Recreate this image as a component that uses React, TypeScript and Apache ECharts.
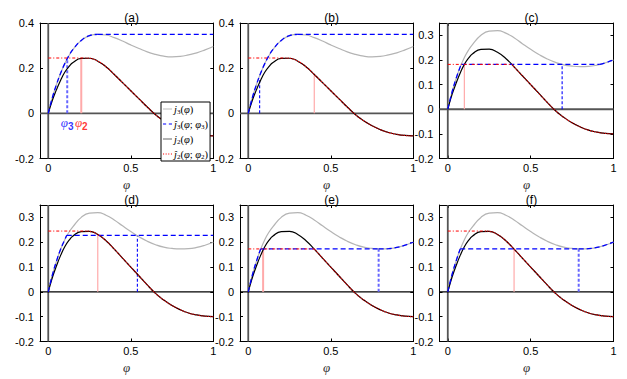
import React, { useEffect, useRef } from 'react';
import * as echarts from 'echarts';

// ---- data ----
const phi = [0, 0.025, 0.05, 0.075, 0.1, 0.125, 0.15, 0.2, 0.25, 0.3, 0.35, 0.4, 0.45, 0.5, 0.55, 0.6, 0.65, 0.7, 0.75, 0.8, 0.85, 0.9, 0.95, 1];
const j2Values = [0, 0.058, 0.105, 0.147, 0.182, 0.207, 0.225, 0.243, 0.244, 0.231, 0.206, 0.172, 0.136, 0.1, 0.064, 0.028, -0.006, -0.033, -0.055, -0.072, -0.085, -0.093, -0.098, -0.1];
const j3ValuesAB = [0, 0.07, 0.128, 0.178, 0.22, 0.255, 0.283, 0.323, 0.344, 0.35, 0.347, 0.335, 0.32, 0.303, 0.287, 0.272, 0.261, 0.253, 0.25, 0.252, 0.259, 0.268, 0.281, 0.296];
const j3ValuesCF = [0, 0.068, 0.124, 0.172, 0.21, 0.24, 0.263, 0.3, 0.317, 0.319, 0.309, 0.29, 0.266, 0.243, 0.222, 0.204, 0.19, 0.18, 0.175, 0.173, 0.174, 0.179, 0.188, 0.2];

const panelTitles = ['(a)', '(b)', '(c)', '(d)', '(e)', '(f)'];
const panelJ3Set = [0, 0, 1, 1, 1, 1];
const yMaxValues = [0.4, 0.4, 0.35, 0.35, 0.35, 0.35];
const yTicksTall = [-0.2, 0, 0.2, 0.4];
const yTicksShort = [-0.2, -0.1, 0, 0.1, 0.2, 0.3];
const xTicks = [0, 0.5, 1];

const phi2Values = [0.2, 0.4, 0.1, 0.3, 0.09, 0.4];
const phi2Tops = [0.243, 0.172, 0.182, 0.23, 0.173, 0.173];
const j2Levels = [0.245, 0.245, 0.182, 0.245, 0.173, 0.245];
const j2FlatEnd = [0.225, 0.225, 0.389, 0.225, 0.4, 0.225];

const phi3Values = [0.115, 0.069, 0.69, 0.54, 0.79, 0.79];
const phi3Tops = [0.237, 0.15, 0.182, 0.228, 0.173, 0.173];
const j3Levels = [0.35, 0.35, 0.182, 0.228, 0.173, 0.173];
const j3FlatStart = [0.3, 0.3, 0.082, 0.112, 0.075, 0.075];
const j3FlatEnd = [1, 1, 0.917, 1, 0.79, 0.79];

const legendNames = ['j3', 'jh3', 'j2', 'jh2'];
const legendLabels: Record<string, string> = {
  j3: '{i|j}{s|3}{r|(}{i|\u03c6}{r|)}',
  jh3: '{i|\u0135}{s|3}{r|(}{i|\u03c6}{r|; }{i|\u03c6}{s|3}{r|)}',
  j2: '{i|j}{s|2}{r|(}{i|\u03c6}{r|)}',
  jh2: '{i|\u0135}{s|2}{r|(}{i|\u03c6}{r|; }{i|\u03c6}{s|2}{r|)}',
};

const X_MIN = -0.05;
const X_MAX = 1;
const Y_MIN = -0.2;

const gridLefts = [40, 240, 439.5];
const gridWidths = [173.3, 173.3, 174];
const gridTops = [23, 205];
const gridHeights = [135.5, 136.5];

const legendIcons: Record<string, { icon: string; color: string }> = {
  j3: { icon: 'path://M0,0h10v1h-10z', color: '#b4b4b4' },
  jh3: { icon: 'path://M0,0h3.5v1h-3.5zM6.5,0h3.5v1h-3.5z', color: '#0000ff' },
  j2: { icon: 'path://M0,0h10v1h-10z', color: '#555' },
  jh2: { icon: 'path://M0,0h1.2v1h-1.2zM2.9,0h1.2v1h-1.2zM5.8,0h1.2v1h-1.2zM8.8,0h1.2v1h-1.2z', color: '#ff0000' },
};

function buildOption() {
  const grids: any[] = [];
  const xAxes: any[] = [];
  const yAxes: any[] = [];
  const titles: any[] = [];
  const series: any[] = [];

  for (let i = 0; i < 6; i++) {
    const col = i % 3;
    const row = Math.floor(i / 3);
    grids.push({ left: gridLefts[col], top: gridTops[row], width: gridWidths[col], height: gridHeights[row], show: false });
    titles.push({
      text: panelTitles[i],
      left: gridLefts[col] + gridWidths[col] / 2,
      top: row === 0 ? 7 : 189,
      textAlign: 'center',
      textStyle: { fontSize: 12, fontWeight: 'normal', fontFamily: 'Liberation Sans', color: '#000' },
    });
    const yTicks = yMaxValues[i] > 0.38 ? yTicksTall : yTicksShort;
    const axLine = { show: true, onZero: false, lineStyle: { color: '#000', width: 1 } };
    xAxes.push({
      type: 'value', gridIndex: i, position: 'bottom', min: X_MIN, max: X_MAX,
      axisLine: axLine,
      axisTick: { show: true, inside: true, length: 3, customValues: xTicks, lineStyle: { color: '#000' } },
      axisLabel: { show: true, customValues: xTicks, color: '#000', fontSize: 11, fontFamily: 'Liberation Sans', margin: 4 },
      splitLine: { show: false },
      name: '\u03c6', nameLocation: 'middle', nameGap: 19,
      nameTextStyle: { fontStyle: 'italic', fontFamily: 'Liberation Serif', fontSize: 13, color: '#333' },
    });
    xAxes.push({
      type: 'value', gridIndex: i, position: 'top', min: X_MIN, max: X_MAX,
      axisLine: axLine,
      axisTick: { show: true, inside: true, length: 3, customValues: xTicks, lineStyle: { color: '#000' } },
      axisLabel: { show: false }, splitLine: { show: false },
    });
    yAxes.push({
      type: 'value', gridIndex: i, position: 'left', min: Y_MIN, max: yMaxValues[i],
      axisLine: axLine,
      axisTick: { show: true, inside: true, length: 3, customValues: yTicks, lineStyle: { color: '#000' } },
      axisLabel: { show: true, customValues: yTicks, color: '#000', fontSize: 11, fontFamily: 'Liberation Sans', margin: 6 },
      splitLine: { show: false },
    });
    yAxes.push({
      type: 'value', gridIndex: i, position: 'right', min: Y_MIN, max: yMaxValues[i],
      axisLine: axLine,
      axisTick: { show: true, inside: true, length: 3, customValues: yTicks, lineStyle: { color: '#000' } },
      axisLabel: { show: false }, splitLine: { show: false },
    });

    const ln = (name: string | undefined, data: number[][], color: string, width: number, type: any, smooth: boolean, z: number) => ({
      type: 'line', name, xAxisIndex: i * 2, yAxisIndex: i * 2, data, symbol: 'none', showSymbol: false, smooth,
      lineStyle: { color, width, type }, itemStyle: { color: name ? legendIcons[name].color : color }, z, silent: true, animation: false,
    });

    const j3 = panelJ3Set[i] === 0 ? j3ValuesAB : j3ValuesCF;
    const pts3 = phi.map((x, k) => [x, j3[k]]);
    const pts2 = phi.map((x, k) => [x, j2Values[k]]);
    const topRow = row === 0;

    // zero lines
    series.push(ln(undefined, [[0, Y_MIN], [0, yMaxValues[i]]], '#555', 1.8, 'solid', false, 1));
    series.push(ln(undefined, [[X_MIN, 0], [X_MAX, 0]], topRow ? '#555' : '#000', topRow ? 1.8 : 1.1, 'solid', false, 1));

    // marker verticals
    series.push(ln(undefined, [[phi2Values[i], 0], [phi2Values[i], phi2Tops[i]]], '#ffaaaa', i === 0 || i === 4 ? 2 : 1.2, 'solid', false, 2));
    const lightBlue = i === 0 || i === 4 || i === 5;
    series.push(ln(undefined, [[phi3Values[i], 0], [phi3Values[i], phi3Tops[i]]], lightBlue ? '#6666ff' : '#0000ff', lightBlue ? 2 : 1.1, [3, 2], false, 2));

    // base curves
    series.push(ln('j3', pts3, '#b4b4b4', 1.2, 'solid', true, 3));
    series.push(ln('j2', pts2, '#000', 1.2, 'solid', true, 3));

    // hat j3
    const s3 = j3FlatStart[i], e3 = j3FlatEnd[i], L3 = j3Levels[i];
    series.push(ln('jh3', [...pts3.filter(p => p[0] < s3), [s3, L3]], '#0000ff', 1.3, [5, 3], true, 4));
    series.push(ln('jh3', [[s3, L3], [e3, L3]], '#0000ff', 1.3, [5, 3], false, 4));
    if (e3 < 1) {
      series.push(ln('jh3', [[e3, L3], ...pts3.filter(p => p[0] > e3)], '#0000ff', 1.3, [5, 3], true, 4));
    }
    // hat j2
    const e2 = j2FlatEnd[i], L2 = j2Levels[i];
    series.push(ln('jh2', [[0, L2], [e2, L2]], '#ff0000', 1, [3, 2, 1, 2], false, 5));
    series.push(ln('jh2', [[e2, L2], ...pts2.filter(p => p[0] > e2)], '#e00000', 1.2, [1.2, 1], true, 5));

    if (i === 0) {
      const rich = (c: string) => ({
        p: { fontStyle: 'italic', fontFamily: 'Liberation Serif', fontSize: 13, color: c },
        s: { fontFamily: 'Liberation Sans', fontSize: 10, fontWeight: 'bold', color: c, padding: [8, 0, 0, 0] },
      });
      series.push({
        type: 'scatter', xAxisIndex: 0, yAxisIndex: 0, symbolSize: 0, silent: true, z: 6,
        data: [[phi3Values[0], 0]],
        label: { show: true, position: 'bottom', distance: 0, formatter: '{p|\u03c6}{s|3}', rich: rich('#0000ff') },
      });
      series.push({
        type: 'scatter', xAxisIndex: 0, yAxisIndex: 0, symbolSize: 0, silent: true, z: 6,
        data: [[phi2Values[0], 0]],
        label: { show: true, position: 'bottom', distance: 0, formatter: '{p|\u03c6}{s|2}', rich: rich('#ff0000') },
      });
    }
  }

  return {
    animation: false,
    backgroundColor: '#fff',
    title: titles,
    grid: grids,
    xAxis: xAxes,
    yAxis: yAxes,
    legend: {
      z: 20,
      data: legendNames.map(n => ({ name: n, icon: legendIcons[n].icon, itemStyle: { color: legendIcons[n].color } })),
      orient: 'vertical', left: 161, top: 102,
      itemWidth: 9, itemHeight: 1.3, itemGap: 3,
      padding: [1, 2, 1, 2],
      backgroundColor: '#fff', borderColor: '#000', borderWidth: 1,
      selectedMode: false,
      formatter: (name: string) => legendLabels[name],
      textStyle: {
        color: '#000', padding: [0, 0, 0, -3],
        rich: {
          i: { fontStyle: 'italic', fontFamily: 'Liberation Serif', fontSize: 10.5, color: '#000', lineHeight: 13 },
          r: { fontFamily: 'Liberation Serif', fontSize: 10.5, color: '#000', lineHeight: 13 },
          s: { fontFamily: 'Liberation Serif', fontSize: 7, color: '#000', lineHeight: 13, padding: [5, 0, 0, 0] },
        },
      },
    },
    series,
  };
}

export default function App() {
  const ref = useRef<HTMLDivElement>(null);
  useEffect(() => {
    if (!ref.current) return;
    const chart = echarts.init(ref.current, undefined, { renderer: 'svg' });
    chart.setOption(buildOption() as any);
    return () => chart.dispose();
  }, []);
  return <div ref={ref} style={{ position: 'fixed', left: 0, top: 0, width: 627, height: 379, background: '#fff' }} />;
}
